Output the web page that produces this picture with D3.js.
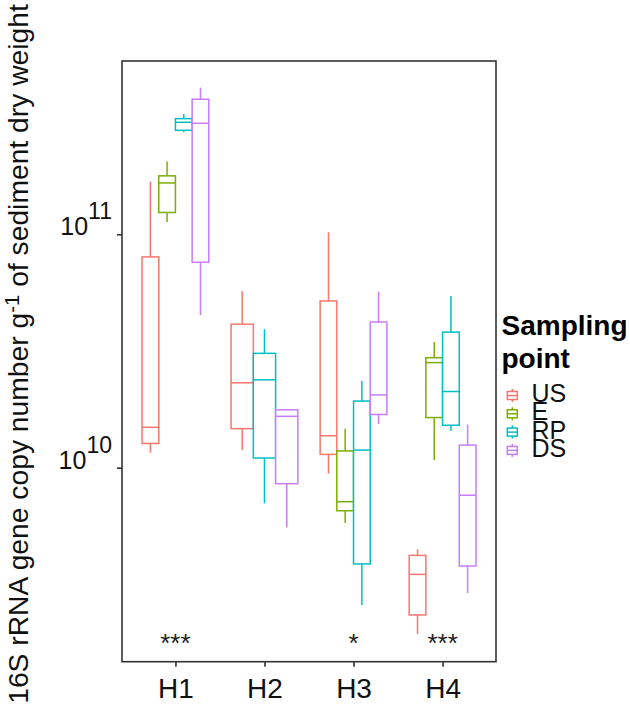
<!DOCTYPE html>
<html><head><meta charset="utf-8">
<script src="https://cdn.jsdelivr.net/npm/d3@7"></script>
<style>body{margin:0;background:#fff;} svg{display:block;font-family:"Liberation Sans",Arial,Helvetica,sans-serif;}</style>
</head><body><svg id="c" width="630" height="715"></svg>
<script>
const groups = ["H1","H2","H3","H4"];
const series = ["US","E","RP","DS"];
const colors = ["#F8766D","#7CAE00","#00BFC4","#C77CFF"];
// [lower whisker, Q1, median, Q3, upper whisker] for each group (null = absent)
const US = [[1.16e10,1.27e10,1.49e10,8.0e10,1.68e11],[1.19e10,1.47e10,2.31e10,4.12e10,5.70e10],[9.43e9,1.14e10,1.37e10,5.18e10,1.02e11],[1.94e9,2.34e9,3.49e9,4.21e9,4.47e9]];
const E  = [[1.13e11,1.24e11,1.66e11,1.78e11,2.05e11],null,[5.80e9,6.54e9,7.15e9,1.18e10,1.47e10],[1.08e10,1.64e10,2.82e10,2.96e10,3.46e10]];
const RP = [[2.74e11,2.79e11,3.02e11,3.13e11,3.28e11],[7.04e9,1.10e10,2.38e10,3.09e10,3.92e10],[2.58e9,3.87e9,1.19e10,1.93e10,2.35e10],[1.44e10,1.52e10,2.12e10,3.81e10,5.44e10]];
const DS = [[4.51e10,7.59e10,2.99e11,3.79e11,4.25e11],[5.55e9,8.54e9,1.66e10,1.77e10,1.78e10],[1.54e10,1.69e10,2.05e10,4.21e10,5.68e10],[2.90e9,3.79e9,7.62e9,1.25e10,1.53e10]];
const significance = ["***","","*","***"];
const yTicks = [1e10, 1e11];
const yTickExp = ["10","11"];
const yDomain = [Math.pow(10,9.1688), Math.pow(10,11.7425)];
const legendTitle = ["Sampling","point"];

const seriesData = [US, E, RP, DS];
const svg = d3.select("#c");
const P = {left:122, right:496, top:61, bottom:661.7};

const x = d3.scalePoint().domain(groups).range([P.left, P.right]).padding(0.6);
const step = x.step();
const y = d3.scaleLog().domain(yDomain).range([P.bottom, P.top]);

// boxes
groups.forEach((g, gi) => {
  const present = series.filter((s, si) => seriesData[si][gi]);
  const inner = d3.scaleBand().domain(present).range([x(g) - 0.375*step, x(g) + 0.375*step]).padding(0);
  present.forEach(s => {
    const si = series.indexOf(s);
    const [mn, q1, md, q3, mx] = seriesData[si][gi];
    const cx = inner(s) + inner.bandwidth()/2;
    const col = colors[si];
    const gg = svg.append("g").attr("stroke", col).attr("stroke-width", 1.5).attr("fill", "none");
    gg.append("line").attr("x1", cx).attr("x2", cx).attr("y1", y(mx)).attr("y2", y(q3));
    gg.append("line").attr("x1", cx).attr("x2", cx).attr("y1", y(q1)).attr("y2", y(mn));
    gg.append("rect").attr("x", inner(s)).attr("width", inner.bandwidth())
      .attr("y", y(q3)).attr("height", y(q1) - y(q3)).attr("fill", "#fff");
    gg.append("line").attr("x1", inner(s)).attr("x2", inner(s) + inner.bandwidth()).attr("y1", y(md)).attr("y2", y(md));
  });
});

// significance
svg.append("g").selectAll("text").data(groups).join("text")
  .attr("x", d => x(d)).attr("y", 652).attr("text-anchor", "middle")
  .attr("font-size", 26).attr("fill", "#222")
  .text((d, i) => significance[i]);

// panel border
svg.append("rect").attr("x", P.left).attr("y", P.top).attr("width", P.right - P.left).attr("height", P.bottom - P.top)
  .attr("fill", "none").attr("stroke", "#333").attr("stroke-width", 1.6);

// x axis
const xa = svg.append("g").attr("transform", `translate(0,${P.bottom})`)
  .call(d3.axisBottom(x).tickSize(5).tickSizeOuter(0));
xa.select(".domain").remove();
xa.selectAll(".tick line").attr("stroke", "#333").attr("stroke-width", 1.6);
xa.selectAll(".tick text").attr("font-size", 28).attr("fill", "#111").attr("dy", null).attr("y", 36);

// y axis
const ya = svg.append("g").attr("transform", `translate(${P.left},0)`)
  .call(d3.axisLeft(y).tickValues(yTicks).tickSize(5).tickFormat(""));
ya.select(".domain").remove();
ya.selectAll(".tick line").attr("stroke", "#333").attr("stroke-width", 1.6);
yTicks.forEach((t, i) => {
  const tx = svg.append("text").attr("x", 112).attr("y", y(t) + 1).attr("text-anchor", "end").attr("fill", "#111");
  tx.append("tspan").attr("font-size", 25).text("10");
  tx.append("tspan").attr("font-size", 23).attr("dy", -16).text(yTickExp[i]);
});

// y title
const yt = svg.append("text").attr("transform", "translate(28,354) rotate(-90)").attr("text-anchor", "middle").attr("fill", "#111").attr("font-size", 24);
yt.append("tspan").text("16S rRNA gene copy number g");
yt.append("tspan").attr("font-size", "0.72em").attr("dy", "-0.45em").text("-1");
yt.append("tspan").attr("dy", "0.32em").text(" of sediment dry weight");
const len = yt.node().getComputedTextLength();
yt.attr("font-size", 24 * 700 / len);

// legend
const lg = svg.append("g");
lg.selectAll("text.t").data(legendTitle).join("text").attr("class","t")
  .attr("x", 501.5).attr("y", (d,i) => 335 + i*33.3).attr("font-size", 28).attr("font-weight", "bold").attr("fill", "#000").text(d => d);
series.forEach((s, i) => {
  const cy = 395.5 + i*18.3, cx = 512.3;
  const k = lg.append("g").attr("stroke", colors[i]).attr("stroke-width", 1.5).attr("fill", "#fff");
  k.append("line").attr("x1", cx).attr("x2", cx).attr("y1", cy - 6.5).attr("y2", cy + 6.5);
  k.append("rect").attr("x", cx - 5).attr("width", 10).attr("y", cy - 4).attr("height", 8);
  k.append("line").attr("x1", cx - 5).attr("x2", cx + 5).attr("y1", cy).attr("y2", cy);
  lg.append("text").attr("x", 531.5).attr("y", cy + 6.5).attr("font-size", 25).attr("fill", "#111").text(s);
});
</script></body></html>
